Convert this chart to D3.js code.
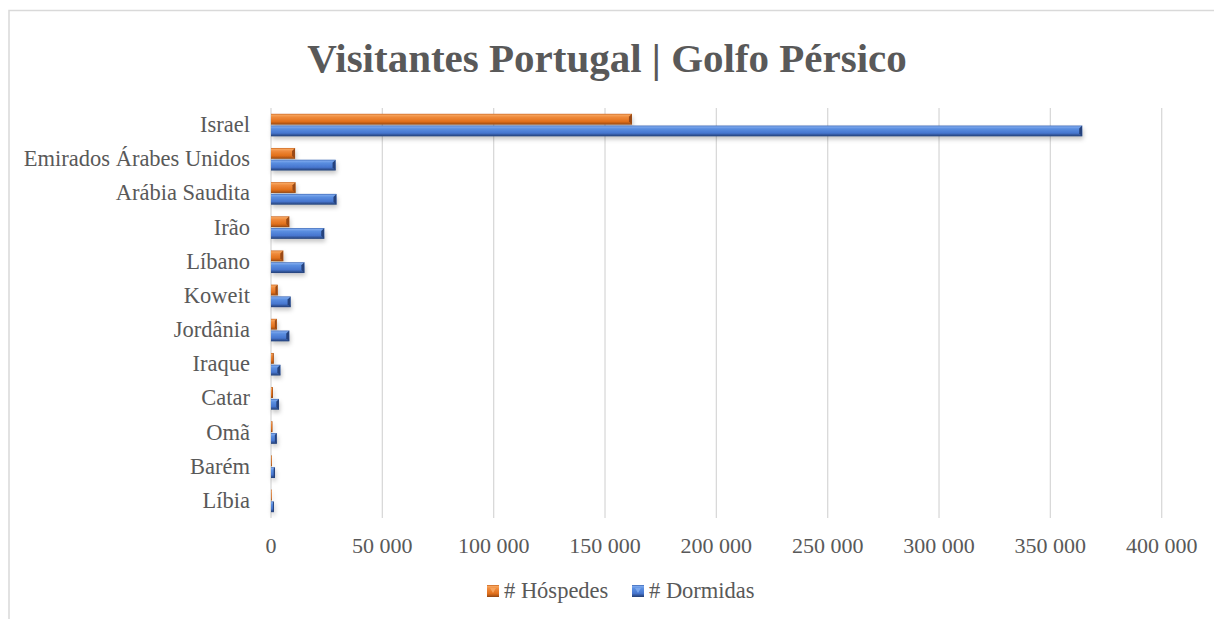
<!DOCTYPE html>
<html lang='en'>
<head>
<meta charset='utf8'>
<title>Visitantes Portugal | Golfo Pérsico</title>
<script src="https://cdn.jsdelivr.net/npm/d3@7"></script>
<style>
  body { margin: 0; background: #fff; }
  svg text { font-family: 'Liberation Serif', 'Times New Roman', serif; fill: #595959; }
</style>
</head>
<body>
<svg id='chart' width='1214' height='619'></svg>
<script>
var countries = ['Israel', 'Emirados Árabes Unidos', 'Arábia Saudita', 'Irão', 'Líbano', 'Koweit',
                 'Jordânia', 'Iraque', 'Catar', 'Omã', 'Barém', 'Líbia'];
var hospedes = [162100, 10800, 11000, 8200, 5500, 3000, 2600, 1200, 900, 600, 400, 200];
var dormidas = [364300, 29000, 29400, 23900, 15000, 8800, 8200, 4200, 3600, 2600, 1800, 1300];
var xTicks = [0, 50000, 100000, 150000, 200000, 250000, 300000, 350000, 400000];
var seriesNames = ['# Hóspedes', '# Dormidas'];

var svg = d3.select('#chart');
var plotLeft = 271, plotRight = 1161.7, plotTop = 108, plotBottom = 518;

// frame
svg.append('path')
    .attr('d', 'M9,619 L9,10.5 L1214,10.5')
    .attr('fill', 'none')
    .attr('stroke', '#d9d9d9')
    .attr('stroke-width', 1.5);

svg.append('text')
    .attr('x', 607).attr('y', 72)
    .attr('text-anchor', 'middle')
    .style('font-size', '41px')
    .style('font-weight', 'bold')
    .text('Visitantes Portugal | Golfo Pérsico');

var x = d3.scaleLinear().domain([0, 400000]).range([plotLeft, plotRight]);
var y = d3.scaleBand().domain(countries).range([plotTop, plotBottom]).paddingInner(0.34).paddingOuter(0.17);
var ys = d3.scaleBand().domain([0, 1]).range([0, y.bandwidth()]).paddingInner(0.08);

var defs = svg.append('defs');
function grad(id, stops) {
    var g = defs.append('linearGradient').attr('id', id)
        .attr('x1', 0).attr('y1', 0).attr('x2', 0).attr('y2', 1);
    stops.forEach(function(s) {
        g.append('stop').attr('offset', s[0]).attr('stop-color', s[1]);
    });
}
grad('g-orange', [[0, '#c9651f'], [0.12, '#f6a35c'], [0.3, '#ef8a3c'], [0.7, '#e2711d'], [0.85, '#c15e17'], [1, '#8f4512']]);
grad('g-blue', [[0, '#3b66b4'], [0.12, '#7aa6ec'], [0.3, '#5a8ee0'], [0.7, '#4776cf'], [0.85, '#34589e'], [1, '#233f75']]);
var shadow = defs.append('filter').attr('id', 'shadow')
    .attr('x', '-5%').attr('y', '-30%').attr('width', '110%').attr('height', '180%');
shadow.append('feDropShadow').attr('dx', 1).attr('dy', 3).attr('stdDeviation', 2)
    .attr('flood-color', '#000').attr('flood-opacity', 0.22);

// grid
svg.append('g').selectAll('line').data(xTicks).enter().append('line')
    .attr('x1', d => x(d)).attr('x2', d => x(d))
    .attr('y1', plotTop).attr('y2', plotBottom)
    .attr('stroke', '#d9d9d9').attr('stroke-width', 1.3);

// x labels
svg.append('g').selectAll('text').data(xTicks).enter().append('text')
    .attr('x', d => x(d)).attr('y', 553)
    .attr('text-anchor', 'middle')
    .style('font-size', '22px')
    .text(d => d3.format(',')(d).replace(/,/g, ' '));

// y labels
svg.append('g').selectAll('text').data(countries).enter().append('text')
    .attr('x', 250).attr('y', d => y(d) + y.bandwidth() / 2 + 7)
    .attr('text-anchor', 'end')
    .style('font-size', '22.5px')
    .text(d => d);

var fills = ['url(#g-orange)', 'url(#g-blue)'];
var ends = ['#9a4a12', '#25427c'];
[hospedes, dormidas].forEach(function(vals, si) {
    var g = svg.append('g').attr('filter', 'url(#shadow)');
    var bars = g.selectAll('g').data(vals).enter().append('g');
    bars.append('rect')
        .attr('x', x(0))
        .attr('y', (d, i) => y(countries[i]) + ys(si))
        .attr('width', d => Math.max(0.8, x(d) - x(0)))
        .attr('height', ys.bandwidth())
        .attr('fill', fills[si]);
    // bevelled end cap
    bars.append('path')
        .attr('d', function(d, i) {
            var x1 = x(d), y0 = y(countries[i]) + ys(si), h = ys.bandwidth();
            var w = Math.min(3, (x1 - x(0)) / 3);
            return 'M' + (x1 - w) + ',' + (y0 + w) + ' L' + x1 + ',' + y0 + ' L' + x1 + ',' + (y0 + h) +
                ' L' + (x1 - w) + ',' + (y0 + h - w) + 'Z';
        })
        .attr('fill', ends[si]);
});

// legend
var legendX = [487, 632];
var legendColors = ['url(#g-orange)', 'url(#g-blue)'];
seriesNames.forEach(function(n, i) {
    var lx = legendX[i];
    svg.append('rect').attr('x', lx).attr('y', 585).attr('width', 12).attr('height', 12)
        .attr('fill', legendColors[i]);
    svg.append('path')
        .attr('d', 'M' + (lx + 3) + ',' + 588 + ' L' + (lx + 9) + ',' + 588 + ' L' + (lx + 6) + ',' + 593 + 'Z')
        .attr('fill', i === 0 ? '#f6a35c' : '#7aa6ec');
    svg.append('text').attr('x', lx + 17).attr('y', 598)
        .style('font-size', '22.5px').text(n);
});
</script>
</body>
</html>
